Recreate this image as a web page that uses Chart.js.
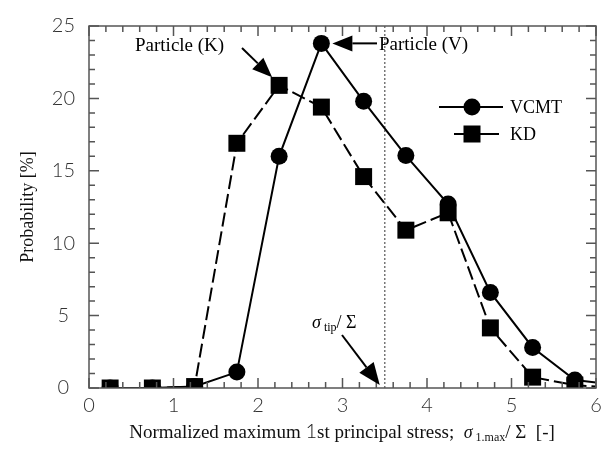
<!DOCTYPE html>
<html>
<head>
<meta charset="utf-8">
<script src="https://cdn.jsdelivr.net/npm/chart.js@4.4.1/dist/chart.umd.min.js"></script>
<style>
    html, body { margin: 0; padding: 0; background: #fff; }
    #wrap { width: 608px; height: 455px; }
</style>
</head>
<body>
<div id="wrap"><canvas id="stressChart" width="608" height="455"></canvas></div>
<script>
// bin centres of the normalized stress; the last one lies past the axis and only carries the line to the edge
const stressBins = [0.25, 0.75, 1.25, 1.75, 2.25, 2.75, 3.25, 3.75, 4.25, 4.75, 5.25, 5.75, 6.25];
const vcmtValues = [0, 0, 0.1, 1.1, 16.0, 23.8, 19.8, 16.05, 12.7, 6.6, 2.8, 0.55, 0.2];
const kdValues = [0, 0, 0.1, 16.9, 20.9, 19.4, 14.6, 10.9, 12.1, 4.15, 0.75, 0.2, 0];
const xTickValues = [0, 1, 2, 3, 4, 5, 6];
const yTickValues = [0, 5, 10, 15, 20, 25];
const tipStress = 3.5;

const SERIF = '"Liberation Serif", "DejaVu Serif", serif';
const SANS = 'Lato, "Open Sans", sans-serif';
const AXIS_COLOR = '#555';

const toPoints = values => values.map((y, i) => ({ x: stressBins[i], y }));
const markerRadius = size => ctx => (ctx.parsed && ctx.parsed.x > 6 ? 0 : size);

function drawArrow(ctx, x1, y1, x2, y2, headLen, headHalf) {
    const ang = Math.atan2(y2 - y1, x2 - x1);
    const bx = x2 - Math.cos(ang) * headLen;
    const by = y2 - Math.sin(ang) * headLen;
    ctx.beginPath();
    ctx.moveTo(x1, y1);
    ctx.lineTo(bx, by);
    ctx.stroke();
    ctx.beginPath();
    ctx.moveTo(x2, y2);
    ctx.lineTo(bx + Math.sin(ang) * headHalf, by - Math.cos(ang) * headHalf);
    ctx.lineTo(bx - Math.sin(ang) * headHalf, by + Math.cos(ang) * headHalf);
    ctx.closePath();
    ctx.fill();
}

// text runs: [text, font, baseline shift]
function drawRuns(ctx, runs, x, y, align) {
    let total = 0;
    runs.forEach(r => { ctx.font = r[1]; total += ctx.measureText(r[0]).width; });
    let cx = align === 'center' ? x - total / 2 : x;
    ctx.textAlign = 'left';
    ctx.textBaseline = 'alphabetic';
    runs.forEach(r => {
        ctx.font = r[1];
        ctx.fillText(r[0], cx, y + (r[2] || 0));
        cx += ctx.measureText(r[0]).width;
    });
}

const framePlugin = {
    id: 'frame',
    beforeDatasetsDraw(chart) {
        const { ctx, chartArea: a, scales: { x } } = chart;
        ctx.save();
        // dotted line at sigma_tip
        const tx = x.getPixelForValue(tipStress);
        ctx.strokeStyle = '#777';
        ctx.lineWidth = 1.5;
        ctx.setLineDash([2, 2]);
        ctx.beginPath();
        ctx.moveTo(tx, a.top);
        ctx.lineTo(tx, a.bottom);
        ctx.stroke();
        ctx.restore();
    },
    afterDatasetsDraw(chart) {
        const { ctx, chartArea: a, scales: { x, y } } = chart;
        ctx.save();
        ctx.strokeStyle = AXIS_COLOR;
        ctx.lineWidth = 1.5;
        ctx.strokeRect(a.left, a.top, a.right - a.left, a.bottom - a.top);

        // inward ticks on all four sides
        ctx.beginPath();
        for (let v = 0; v <= 6.001; v += 0.2) {
            const px = x.getPixelForValue(v);
            const len = Math.abs(v - Math.round(v)) < 1e-6 ? 10 : 6;
            ctx.moveTo(px, a.bottom); ctx.lineTo(px, a.bottom - len);
            ctx.moveTo(px, a.top); ctx.lineTo(px, a.top + len);
        }
        for (let v = 0; v <= 25; v += 1) {
            const py = y.getPixelForValue(v);
            const len = v % 5 === 0 ? 10 : 6;
            ctx.moveTo(a.left, py); ctx.lineTo(a.left + len, py);
            ctx.moveTo(a.right, py); ctx.lineTo(a.right - len, py);
        }
        ctx.stroke();

        // legend
        const lx = 472;
        ctx.strokeStyle = '#000';
        ctx.fillStyle = '#000';
        ctx.lineWidth = 2;
        ctx.beginPath();
        ctx.moveTo(439, 107); ctx.lineTo(503, 107);
        ctx.moveTo(454, 134); ctx.lineTo(499, 134);
        ctx.stroke();
        ctx.beginPath();
        ctx.arc(lx, 107, 8.5, 0, Math.PI * 2);
        ctx.fill();
        ctx.fillRect(lx - 8.5, 134 - 8.5, 17, 17);
        ctx.font = '18px ' + SERIF;
        ctx.textBaseline = 'middle';
        ctx.textAlign = 'left';
        ctx.fillText('VCMT', 510, 108);
        ctx.fillText('KD', 510, 135);

        // annotations
        ctx.font = '19px ' + SERIF;
        ctx.fillText('Particle (K)', 135, 46);
        ctx.fillText('Particle (V)', 379, 45);
        const kx = x.getPixelForValue(stressBins[4]) - 7;
        const ky = y.getPixelForValue(kdValues[4]) - 8;
        drawArrow(ctx, 242, 48, kx, ky, 20, 8);
        const vx = x.getPixelForValue(stressBins[5]) + 11;
        const vy = y.getPixelForValue(vcmtValues[5]);
        drawArrow(ctx, 377, vy, vx, vy, 20, 8);
        drawArrow(ctx, 342, 335, x.getPixelForValue(tipStress) - 5, y.getPixelForValue(0) - 3, 22, 9);
        drawRuns(ctx, [
            ['\u03c3', 'italic 18px ' + SERIF, 0],
            [' tip', '12px ' + SERIF, 3],
            ['/ \u03a3', '18px ' + SERIF, 0]
        ], 312, 328, 'left');

        // axis titles
        ctx.fillStyle = '#111';
        drawRuns(ctx, [
            ['Normalized maximum ', '19px ' + SERIF, 0],
            ['1', '300 20px ' + SANS, 0],
            ['st principal stress;  ', '19px ' + SERIF, 0],
            ['\u03c3', 'italic 18px ' + SERIF, 0],
            [' 1.max', '12px ' + SERIF, 3],
            ['/ \u03a3  [-]', '19px ' + SERIF, 0]
        ], 342, 438, 'center');
        ctx.save();
        ctx.translate(28, (a.top + a.bottom) / 2);
        ctx.rotate(-Math.PI / 2);
        ctx.font = '18px ' + SERIF;
        ctx.textAlign = 'center';
        ctx.textBaseline = 'middle';
        ctx.fillText('Probability [%]', 0, 0);
        ctx.restore();
        ctx.restore();
    }
};

new Chart(document.getElementById('stressChart'), {
    type: 'line',
    data: {
        datasets: [{
            label: 'KD',
            data: toPoints(kdValues),
            borderColor: '#000',
            backgroundColor: '#000',
            borderWidth: 2,
            borderDash: [14, 5],
            pointStyle: 'rect',
            pointRadius: markerRadius(12),
            pointBorderWidth: 0,
            tension: 0,
        }, {
            label: 'VCMT',
            data: toPoints(vcmtValues),
            borderColor: '#000',
            backgroundColor: '#000',
            borderWidth: 2,
            pointStyle: 'circle',
            pointRadius: markerRadius(8.5),
            pointBorderWidth: 0,
            tension: 0,
        }],
    },
    options: {
        responsive: false,
        animation: false,
        layout: { padding: { left: 0, right: 7, top: 21, bottom: 0 } },
        scales: {
            x: {
                type: 'linear',
                min: 0,
                max: 6,
                afterFit: scale => { scale.height = 67; },
                afterBuildTicks: scale => { scale.ticks = xTickValues.map(value => ({ value })); },
                grid: { display: false, drawTicks: false },
                border: { display: false },
                ticks: { padding: 6, color: '#333', font: { family: SANS, size: 20, weight: '300' } },
            },
            y: {
                min: 0,
                max: 25,
                afterFit: scale => { scale.width = 89; },
                afterBuildTicks: scale => { scale.ticks = yTickValues.map(value => ({ value })); },
                grid: { display: false, drawTicks: false },
                border: { display: false },
                ticks: { padding: 14, crossAlign: 'center', color: '#333', font: { family: SANS, size: 20, weight: '300' } },
            },
        },
        plugins: {
            legend: { display: false },
            tooltip: { enabled: false },
        },
    },
    plugins: [framePlugin],
});
</script>
</body>
</html>
